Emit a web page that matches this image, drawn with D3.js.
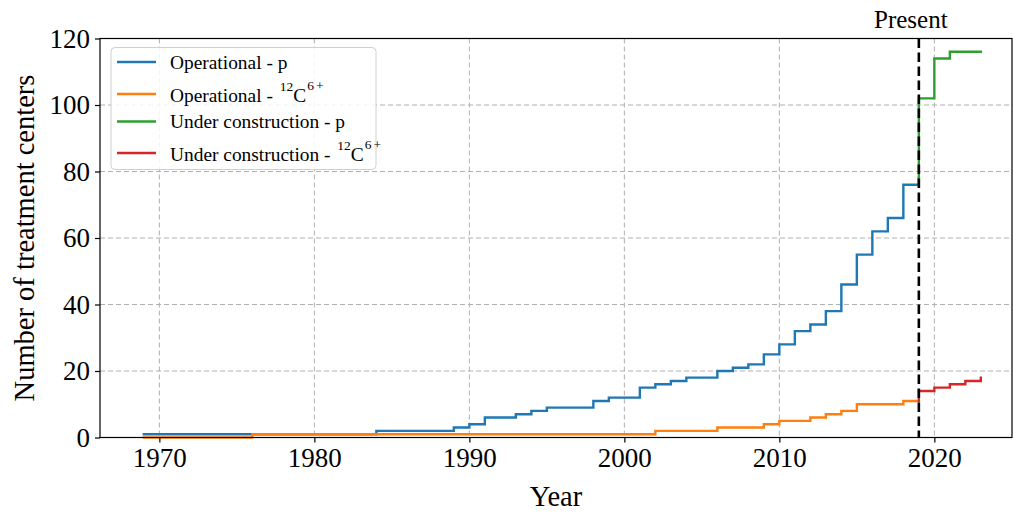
<!DOCTYPE html>
<html>
<head>
<meta charset="utf-8">
<script src="https://cdn.jsdelivr.net/npm/d3@7"></script>
<style>
  html, body { margin: 0; padding: 0; background: #fff; }
  svg { display: block; font-family: "Liberation Serif", "Times New Roman", serif; }
</style>
</head>
<body>
<svg id="chart" width="1013" height="512"></svg>
<script>
// Operational proton centres (step "post": value holds from year until next year)
const protonYears  = [1969, 1976, 1984, 1989, 1990, 1991, 1993, 1994, 1995, 1998, 1999, 2001, 2002, 2003, 2004, 2006, 2007, 2008, 2009, 2010, 2011, 2012, 2013, 2014, 2015, 2016, 2017, 2018, 2019];
const protonCounts = [1, 1, 2, 3, 4, 6, 7, 8, 9, 11, 12, 15, 16, 17, 18, 20, 21, 22, 25, 28, 32, 34, 38, 46, 55, 62, 66, 76, 78];

// Operational carbon-ion centres
const carbonYears  = [1969, 1976, 2002, 2006, 2009, 2010, 2012, 2013, 2014, 2015, 2018, 2019];
const carbonCounts = [0, 1, 2, 3, 4, 5, 6, 7, 8, 10, 11, 11];

// Centres under construction (from the present year onwards)
const protonUCYears  = [2019, 2020, 2021, 2023];
const protonUCCounts = [102, 114, 116, 116];
const carbonUCYears  = [2019, 2020, 2021, 2022, 2023];
const carbonUCCounts = [14, 15, 16, 17, 18];

const presentYear = 2019;
const xTicks = [1970, 1980, 1990, 2000, 2010, 2020];
const yTicks = [0, 20, 40, 60, 80, 100, 120];

const colors = {
  opP: "#1f77b4", opC: "#ff7f0e", ucP: "#2ca02c", ucC: "#d62728"
};

const svg = d3.select("#chart");
const plot = { left: 100, right: 1012, top: 38.5, bottom: 437.5 };

const x = d3.scaleLinear().domain([1966.17, 2025.01]).range([plot.left, plot.right]);
const y = d3.scaleLinear().domain([0, 120]).range([plot.bottom, plot.top]);

const zip = (xs, ys) => xs.map((v, i) => ({ year: v, n: ys[i] }));
const opP = zip(protonYears, protonCounts);
const opC = zip(carbonYears, carbonCounts);
// Construction curves start from the last operational value
const ucP = [opP[opP.length - 1]].concat(zip(protonUCYears, protonUCCounts));
const ucC = [opC[opC.length - 1]].concat(zip(carbonUCYears, carbonUCCounts));

// Grid
const grid = svg.append("g").attr("stroke", "#b0b0b0").attr("stroke-width", 1)
  .attr("stroke-dasharray", "5,3");
grid.selectAll(".gx").data(xTicks).join("line")
  .attr("x1", d => x(d)).attr("x2", d => x(d))
  .attr("y1", plot.top).attr("y2", plot.bottom);
grid.selectAll(".gy").data(yTicks).join("line")
  .attr("x1", plot.left).attr("x2", plot.right)
  .attr("y1", d => y(d)).attr("y2", d => y(d));

// Step lines
const line = d3.line().x(d => x(d.year)).y(d => y(d.n)).curve(d3.curveStepAfter);
const series = [
  { data: opP, color: colors.opP },
  { data: opC, color: colors.opC },
  { data: ucP, color: colors.ucP },
  { data: ucC, color: colors.ucC }
];
svg.append("g").selectAll("path").data(series).join("path")
  .attr("d", d => line(d.data))
  .attr("fill", "none")
  .attr("stroke", d => d.color)
  .attr("stroke-width", 2.4)
  .attr("stroke-linejoin", "miter")
  .attr("stroke-linecap", "square");

// Present marker
svg.append("line")
  .attr("x1", x(presentYear)).attr("x2", x(presentYear))
  .attr("y1", plot.top).attr("y2", plot.bottom)
  .attr("stroke", "#000").attr("stroke-width", 2.6)
  .attr("stroke-dasharray", "9.5,4.5");
svg.append("text")
  .attr("x", x(presentYear) - 8).attr("y", 28)
  .attr("text-anchor", "middle")
  .attr("font-size", 25)
  .text("Present");

// Axes
const xAxis = d3.axisBottom(x).tickValues(xTicks).tickFormat(d3.format("d")).tickSize(5).tickPadding(5);
const yAxis = d3.axisLeft(y).tickValues(yTicks).tickSize(5).tickPadding(5);

const gx = svg.append("g").attr("transform", `translate(0,${plot.bottom})`).call(xAxis);
const gy = svg.append("g").attr("transform", `translate(${plot.left},0)`).call(yAxis);
[gx, gy].forEach(g => {
  g.select(".domain").remove();
  g.selectAll(".tick line").attr("stroke", "#000").attr("stroke-width", 1.2);
  g.selectAll(".tick text").attr("fill", "#000").attr("font-size", 27)
    .attr("font-family", "Liberation Serif, serif");
});

// Frame
svg.append("rect")
  .attr("x", plot.left).attr("y", plot.top)
  .attr("width", plot.right - plot.left).attr("height", plot.bottom - plot.top)
  .attr("fill", "none").attr("stroke", "#000").attr("stroke-width", 1.2);

// Axis titles
svg.append("text")
  .attr("x", (plot.left + plot.right) / 2).attr("y", 506)
  .attr("text-anchor", "middle").attr("font-size", 28.5)
  .text("Year");
svg.append("text")
  .attr("transform", `translate(34,${(plot.top + plot.bottom) / 2}) rotate(-90)`)
  .attr("text-anchor", "middle").attr("font-size", 28.5)
  .text("Number of treatment centers");

// Legend
const legendItems = [
  { label: "Operational - ", ion: false, color: colors.opP },
  { label: "Operational - ", ion: true, color: colors.opC },
  { label: "Under construction - ", ion: false, color: colors.ucP },
  { label: "Under construction - ", ion: true, color: colors.ucC }
];
const legend = svg.append("g");
legend.append("rect")
  .attr("x", 111).attr("y", 47.5).attr("width", 265).attr("height", 122)
  .attr("rx", 4).attr("fill", "#fff").attr("fill-opacity", 0.85)
  .attr("stroke", "#d0d0d0").attr("stroke-width", 1);
const rowY = [62, 94, 121.5, 153];
legendItems.forEach((it, i) => {
  const g = legend.append("g").attr("transform", `translate(0,${rowY[i]})`);
  g.append("line").attr("x1", 117).attr("x2", 156).attr("y1", 0).attr("y2", 0)
    .attr("stroke", it.color).attr("stroke-width", 2.4);
  const t = g.append("text").attr("x", 170).attr("y", it.ion ? 7.5 : 6.5).attr("font-size", 19.4);
  t.append("tspan").text(it.label);
  if (it.ion) {
    t.append("tspan").attr("font-size", 13.5).attr("dy", -11).attr("dx", 2).text("12");
    t.append("tspan").attr("dy", 11).text("C");
    t.append("tspan").attr("font-size", 13.5).attr("dy", -12).attr("dx", 1).text("6");
    t.append("tspan").attr("font-size", 13.5).attr("dx", 2).text("+");
  } else {
    t.append("tspan").text("p");
  }
});
</script>
</body>
</html>
